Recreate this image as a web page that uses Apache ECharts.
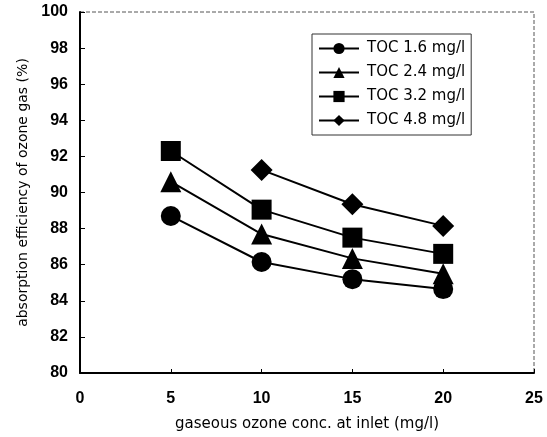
<!DOCTYPE html>
<html>
<head>
<meta charset="utf-8">
<script src="https://cdn.jsdelivr.net/npm/echarts@6/dist/echarts.min.js"></script>
<style>
    html, body {margin: 0; padding: 0; background: #fff;}
    #chart {width: 547px; height: 437px;}
</style>
</head>
<body>
<div id="chart"></div>
<script>
// data
const ozoneConc = [5, 10, 15, 20];
const toc16 = [88.7, 86.15, 85.2, 84.65];
const toc24 = [90.6, 87.7, 86.35, 85.5];
const toc32 = [92.3, 89.05, 87.5, 86.6];
const toc48 = [null, 91.25, 89.35, 88.15];
const seriesNames = ['TOC 1.6 mg/l', 'TOC 2.4 mg/l', 'TOC 3.2 mg/l', 'TOC 4.8 mg/l'];
const symbols = ['circle', 'triangle', 'rect', 'diamond'];
const symbolSizes = [20, 21, 20, 22];

const toPairs = values => ozoneConc.map((x, i) => [x, values[i]]);

const chart = echarts.init(document.getElementById('chart'));
const labelFont = {color: '#000', fontFamily: 'Liberation Sans', fontWeight: 'bold', fontSize: 16};
const nameFont = {color: '#000', fontFamily: 'DejaVu Sans', fontSize: 14};

const option = {
    animation: false,
    grid: {
        left: 80, top: 12, right: 13, bottom: 60,
        show: true, borderColor: '#555', borderWidth: 1, borderType: 'dashed'
    },
    legend: {
        orient: 'vertical',
        left: 312, top: 34,
        padding: [7, 6, 7, 6],
        itemGap: 9,
        itemWidth: 40, itemHeight: 14,
        borderColor: '#333', borderWidth: 1,
        textStyle: {color: '#000', fontFamily: 'DejaVu Sans', fontSize: 15, padding: [0, 0, 0, 3]},
        data: seriesNames
    },
    xAxis: {
        type: 'value',
        min: 0, max: 25, interval: 5,
        name: 'gaseous ozone conc. at inlet (mg/l)',
        nameLocation: 'middle', nameGap: 44,
        nameTextStyle: {...nameFont, fontSize: 15},
        axisLine: {lineStyle: {color: '#000', width: 2}},
        axisTick: {inside: true, length: 4, lineStyle: {color: '#000'}},
        axisLabel: {...labelFont, margin: 18},
        splitLine: {show: false}
    },
    yAxis: {
        type: 'value',
        min: 80, max: 100, interval: 2,
        name: 'absorption efficiency of ozone gas (%)',
        nameLocation: 'middle', nameGap: 50, nameRotate: 90,
        nameTextStyle: nameFont,
        axisLine: {lineStyle: {color: '#000', width: 2}},
        axisTick: {inside: true, length: 5, lineStyle: {color: '#000'}},
        axisLabel: {...labelFont, margin: 12},
        splitLine: {show: false}
    },
    series: [toc16, toc24, toc32, toc48].map((values, i) => ({
        name: seriesNames[i],
        type: 'line',
        data: toPairs(values),
        symbol: symbols[i],
        symbolSize: symbolSizes[i],
        showAllSymbol: true,
        connectNulls: false,
        itemStyle: {color: '#000'},
        lineStyle: {color: '#000', width: 2}
    }))
};
chart.setOption(option);
</script>
</body>
</html>
